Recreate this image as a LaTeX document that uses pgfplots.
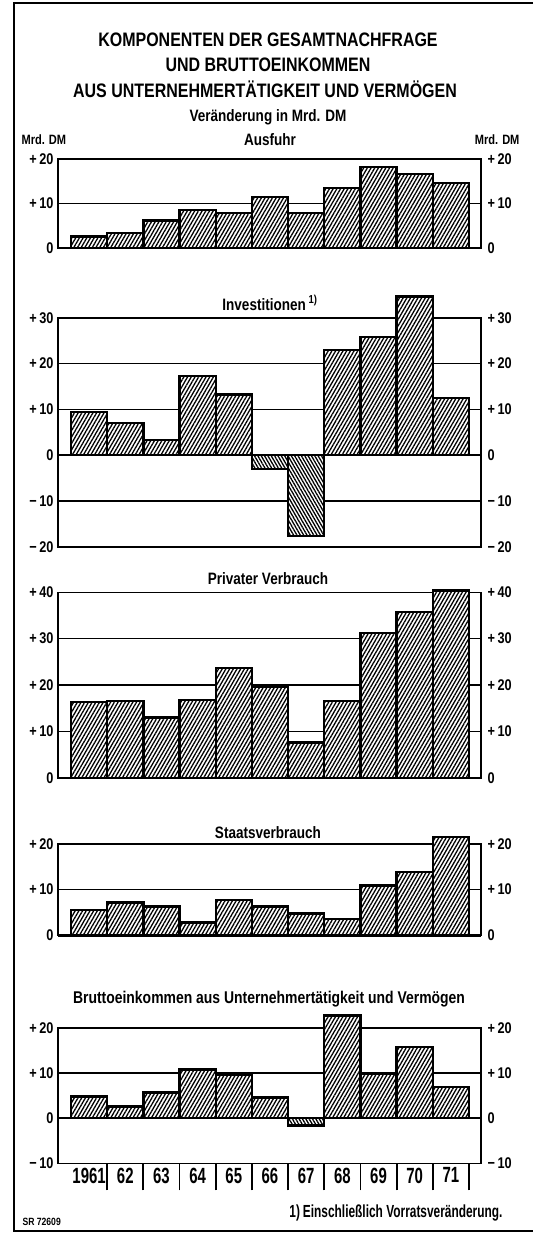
\documentclass[border=0pt]{standalone}
\usepackage{fontspec}
\setmainfont{Liberation Sans}[FakeStretch=0.82]
\newfontfamily\condfont{Liberation Sans}[FakeStretch=0.68]
\usepackage{pgfplots}
\pgfplotsset{compat=1.18}
\usetikzlibrary{patterns.meta}

\pgfplotsset{
  panel/.style={
    scale only axis, width=423pt, xmin=-0.859, xmax=10.832,
    axis line style={line width=1.6pt},
    ymajorgrids, grid style={black, line width=1.4pt},
    xtick=\empty, major tick length=0pt,
    yticklabel style={font=\bfseries\fontsize{15.5}{15.5}\selectfont, xshift=-1pt},
    clip=false, anchor=north west,
  },
  rpanel/.style={
    scale only axis, width=423pt, xmin=-0.859, xmax=10.832,
    axis line style={draw=none},
    xtick=\empty, major tick length=0pt, yticklabel pos=right,
    yticklabel style={font=\bfseries\fontsize{15.5}{15.5}\selectfont, anchor=west, xshift=3pt},
    clip=false, anchor=north west,
  },
  posbar/.style={ybar, bar width=1, bar shift=0pt, draw=black, line width=2.3pt,
    fill=white, postaction={pattern={Lines[angle=60,distance=3.2pt,line width=1.3pt]}}},
  negbar/.style={ybar, bar width=1, bar shift=0pt, draw=black, line width=2.3pt,
    fill=white, postaction={pattern={Lines[angle=-60,distance=2.9pt,line width=1.3pt]}}},
  zeroline/.style={black, line width=2.4pt, no marks, forget plot},
}

\newcommand{\rightlabels}[6]{%
  \begin{axis}[rpanel, at={(58pt,-#1pt)}, height=#2pt, ymin=#3, ymax=#4, ytick={#5}, yticklabels={#6}]
  \end{axis}}

\begin{document}
\begin{tikzpicture}
\path[use as bounding box] (0,0) rectangle (533pt,-1233pt);
\draw[line width=2pt] (533pt,-3pt) -- (13.5pt,-3pt) -- (13.5pt,-1231pt) -- (533pt,-1231pt);

% Titles
\node[font=\bfseries\fontsize{19.5}{20}\selectfont] at (268pt,-40pt) {KOMPONENTEN DER GESAMTNACHFRAGE};
\node[font=\bfseries\fontsize{19.5}{20}\selectfont] at (268pt,-65pt) {UND BRUTTOEINKOMMEN};
\node[font=\bfseries\fontsize{19.5}{20}\selectfont] at (265pt,-89pt) {AUS UNTERNEHMERTÄTIGKEIT UND VERMÖGEN};
\node[font=\bfseries\fontsize{16.5}{17}\selectfont] at (268pt,-117pt) {Veränderung in Mrd. DM};
\node[font=\bfseries\fontsize{13.5}{13.5}\selectfont, anchor=west] at (18pt,-140pt) {Mrd. DM};
\node[font=\bfseries\fontsize{13.5}{13.5}\selectfont, anchor=east] at (523pt,-140pt) {Mrd. DM};
\node[font=\bfseries\fontsize{16.5}{17}\selectfont] at (270pt,-140pt) {Ausfuhr};
\node[font=\bfseries\fontsize{16.5}{17}\selectfont] at (270pt,-303pt) {Investitionen\,\textsuperscript{1)}};
\node[font=\bfseries\fontsize{16.5}{17}\selectfont] at (268pt,-579pt) {Privater Verbrauch};
\node[font=\bfseries\fontsize{16.5}{17}\selectfont] at (268pt,-833pt) {Staatsverbrauch};
\node[font=\bfseries\fontsize{17}{17}\selectfont] at (269pt,-999pt) {Bruttoeinkommen aus Unternehmertätigkeit und Vermögen};
\node[font=\condfont\bfseries\fontsize{17.5}{17.5}\selectfont, anchor=east] at (506pt,-1213pt) {1)\,Einschließlich Vorratsveränderung.};
\node[font=\bfseries\fontsize{10.5}{10.5}\selectfont, anchor=west] at (19pt,-1222pt) {SR 72609};

% Panel 1: Ausfuhr
\begin{axis}[panel, at={(58pt,-159pt)}, height=89pt, ymin=0, ymax=20,
  ytick={0,10,20}, yticklabels={0,+\,10,+\,20}]
\addplot[posbar] coordinates {(0,2.6) (1,3.3) (2,6.2) (3,8.6) (4,7.9) (5,11.5) (6,7.9) (7,13.5) (8,18.2) (9,16.6) (10,14.6)};
\addplot[zeroline] coordinates {(-0.859,0) (10.832,0)};
\end{axis}
\rightlabels{159}{89}{0}{20}{0,10,20}{0,+\,10,+\,20}

% Panel 2: Investitionen
\begin{axis}[panel, at={(58pt,-317.7pt)}, height=229pt, ymin=-20, ymax=30,
  ytick={-20,-10,0,10,20,30}, yticklabels={−\,20,−\,10,0,+\,10,+\,20,+\,30}]
\addplot[posbar] coordinates {(0,9.4) (1,7.0) (2,3.3) (3,17.3) (4,13.2) (7,23.0) (8,25.8) (9,34.6) (10,12.5)};
\addplot[negbar] coordinates {(5,-3.0) (6,-17.7)};
\addplot[zeroline] coordinates {(-0.859,0) (10.832,0)};
\end{axis}
\rightlabels{317.7}{229}{-20}{30}{-20,-10,0,10,20,30}{−\,20,−\,10,0,+\,10,+\,20,+\,30}

% Panel 3: Privater Verbrauch
\begin{axis}[panel, at={(58pt,-592.3pt)}, height=185.4pt, ymin=0, ymax=40,
  ytick={0,10,20,30,40}, yticklabels={0,+\,10,+\,20,+\,30,+\,40}]
\addplot[posbar] coordinates {(0,16.3) (1,16.5) (2,13.0) (3,16.7) (4,23.6) (5,19.6) (6,7.6) (7,16.5) (8,31.2) (9,35.7) (10,40.4)};
\addplot[zeroline] coordinates {(-0.859,0) (10.832,0)};
\end{axis}
\rightlabels{592.3}{185.4}{0}{40}{0,10,20,30,40}{0,+\,10,+\,20,+\,30,+\,40}

% Panel 4: Staatsverbrauch
\begin{axis}[panel, at={(58pt,-844pt)}, height=91.3pt, ymin=0, ymax=20,
  ytick={0,10,20}, yticklabels={0,+\,10,+\,20}]
\addplot[posbar] coordinates {(0,5.5) (1,7.2) (2,6.3) (3,2.8) (4,7.7) (5,6.3) (6,4.8) (7,3.5) (8,10.9) (9,13.9) (10,21.6)};
\addplot[zeroline] coordinates {(-0.859,0) (10.832,0)};
\end{axis}
\rightlabels{844}{91.3}{0}{20}{0,10,20}{0,+\,10,+\,20}

% Panel 5: Bruttoeinkommen
\begin{axis}[panel, at={(58pt,-1028pt)}, height=135.3pt, ymin=-10, ymax=20,
  ytick={-10,0,10,20}, yticklabels={−\,10,0,+\,10,+\,20},
  xtick={0,1,2,3,4,5,6,7,8,9,10}, xtick pos=left,
  xticklabels={1961,62,63,64,65,66,67,68,69,70,71},
  xticklabel style={font=\condfont\bfseries\fontsize{22}{22}\selectfont, yshift=-1pt},
  extra x ticks={0.5,1.5,2.5,3.5,4.5,5.5,6.5,7.5,8.5,9.5,10.5},
  extra x tick labels={},
  extra x tick style={major tick length=27pt, tick align=outside, tick style={black, line width=1.8pt}}]
\addplot[posbar] coordinates {(0,4.8) (1,2.6) (2,5.7) (3,10.8) (4,9.7) (5,4.6) (7,22.8) (8,9.9) (9,15.8) (10,6.9)};
\addplot[negbar] coordinates {(6,-1.6)};
\addplot[zeroline] coordinates {(-0.859,0) (10.832,0)};
\end{axis}
\rightlabels{1028}{135.3}{-10}{20}{-10,0,10,20}{−\,10,0,+\,10,+\,20}
\end{tikzpicture}
\end{document}
